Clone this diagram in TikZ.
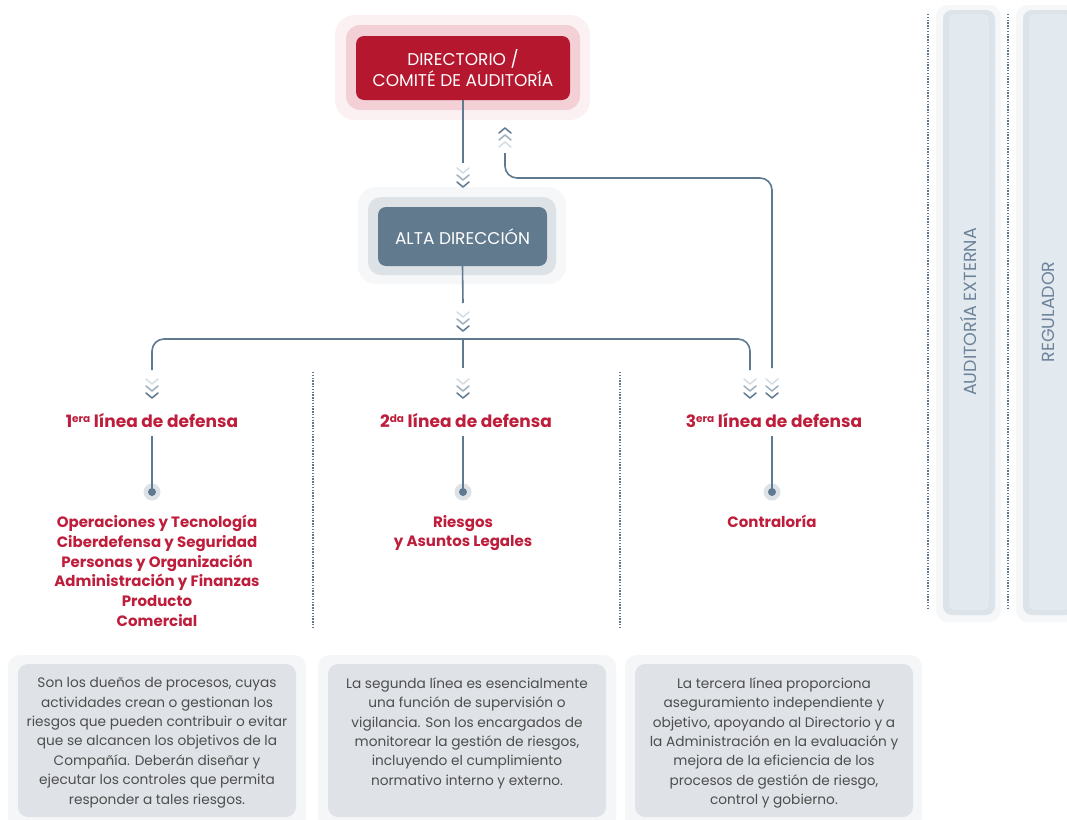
\documentclass[tikz,border=0pt]{standalone}
\usepackage{fontspec}
\setmainfont{Poppins}
\definecolor{redbox}{HTML}{B5172F}
\definecolor{pinkmid}{HTML}{F2D0D6}
\definecolor{pinkout}{HTML}{FBF0F2}
\definecolor{slate}{HTML}{627A8E}
\definecolor{graymid}{HTML}{DDE2E7}
\definecolor{grayout}{HTML}{F5F7F9}
\definecolor{linec}{HTML}{5F7A90}
\definecolor{chevmid}{HTML}{9FB0BF}
\definecolor{chevlight}{HTML}{D5DDE4}
\definecolor{txtred}{HTML}{BE1E3C}
\definecolor{boxtxt}{HTML}{4D4D4D}
\definecolor{boxfill}{HTML}{DFE3E7}
\definecolor{boxouter}{HTML}{F5F6F8}
\definecolor{panelin}{HTML}{DCE4EA}
\definecolor{panelmid}{HTML}{E2EAF0}
\definecolor{paneltxt}{HTML}{6E8399}
\newcommand{\ordsup}[1]{\raisebox{0.55ex}{\fontsize{10.5}{10.5}\selectfont #1}}
\tikzset{
  conn/.style={draw=linec, line width=1.6pt},
  chev/.style={line width=1.5pt, line cap=round, line join=round},
  mainbox/.style={rounded corners=8pt, minimum width=214pt, minimum height=64pt, align=center, text=white, font=\fontsize{17}{21}\selectfont},
  head/.style={text=txtred, font=\bfseries\fontsize{17}{20}\selectfont},
  items/.style={text=txtred, align=center, font=\bfseries\fontsize{15}{19.8}\selectfont, anchor=north},
  boxtext/.style={text=boxtxt, align=center, font=\fontsize{13.7}{19.4}\selectfont, anchor=north},
  sep/.style={draw=linec, line width=1.3pt, dash pattern=on 1.4pt off 1.4pt},
  halo/.style={circle, fill=graymid, minimum size=17pt, inner sep=0pt},
  dotc/.style={circle, fill=linec, minimum size=8pt, inner sep=0pt},
  paneltext/.style={rotate=90, text=paneltxt, font=\fontsize{17.5}{20}\selectfont}
}
% down chevrons: #1 x, #2 y of tip of the dark chevron
\newcommand{\chevsdown}[2]{%
  \draw[chev, chevlight] (#1-6,#2-19) -- (#1,#2-14) -- (#1+6,#2-19);
  \draw[chev, chevmid] (#1-6,#2-12) -- (#1,#2-7) -- (#1+6,#2-12);
  \draw[chev, linec] (#1-6,#2-5) -- (#1,#2) -- (#1+6,#2-5);}
% up chevrons: #1 x, #2 y of apex of the dark chevron
\newcommand{\chevsup}[2]{%
  \draw[chev, linec] (#1-6,#2+5) -- (#1,#2) -- (#1+6,#2+5);
  \draw[chev, chevmid] (#1-6,#2+12) -- (#1,#2+7) -- (#1+6,#2+12);
  \draw[chev, chevlight] (#1-6,#2+19) -- (#1,#2+14) -- (#1+6,#2+19);}
\begin{document}
\begin{tikzpicture}[x=1pt, y=-1pt]
\useasboundingbox[fill=white] (0,0) rectangle (1067,819);

% right panels
\fill[grayout, rounded corners=12pt] (936,5) rectangle (1001,622);
\fill[panelin, rounded corners=9pt] (943,10) rectangle (995,615);
\fill[panelmid, rounded corners=6pt] (949,14) rectangle (989,610);
\fill[grayout, rounded corners=12pt] (1016,5) rectangle (1080,622);
\fill[panelin, rounded corners=9pt] (1023,10) rectangle (1075,615);
\fill[panelmid, rounded corners=6pt] (1029,14) rectangle (1070,610);
\node[paneltext] (audext) at (968,312) {AUDITORÍA EXTERNA};
\node[paneltext] (reg) at (1048,312) {REGULADOR};
\draw[sep] (928,14) -- (928,610);
\draw[sep] (1008,14) -- (1008,610);

% Directorio
\fill[pinkout, rounded corners=20pt] (335,15) rectangle (590,120);
\fill[pinkmid, rounded corners=14pt] (346,25) rectangle (580,110);
\node[mainbox, fill=redbox] (dir) at (463,68) {DIRECTORIO /\\COMITÉ DE AUDITORÍA};

% Alta direccion
\fill[grayout, rounded corners=18pt] (358,187) rectangle (566,284);
\fill[graymid, rounded corners=13pt] (368,197) rectangle (556,275);
\node[mainbox, fill=slate, minimum width=169pt, minimum height=59pt] (alta) at (462.5,236.5) {ALTA DIRECCIÓN};

% connectors
\coordinate (a1) at (463,163);
\draw[conn] (dir.south) -- (a1);
\chevsdown{463}{187}

\coordinate (b0) at (463,303);
\draw[conn] (alta.south) -- (b0);
\chevsdown{463}{331}

\coordinate (bl) at (152,370);
\coordinate (bc) at (463,339);
\coordinate (br) at (750,370);
\draw[conn, rounded corners=12pt] (bl) |- (bc) -| (br);
\draw[conn] (bc) -- (463,368);
\chevsdown{152}{398}
\chevsdown{463}{398}
\chevsdown{750}{398}

\coordinate (r0) at (772,368);
\coordinate (r1) at (505,153);
\draw[conn, rounded corners=12pt] (r0) |- (640,178) -| (r1);
\chevsdown{772}{398}
\chevsup{505}{128}

% separators
\draw[sep] (313,372) -- (313,628);
\draw[sep] (620,372) -- (620,628);

% headers
\node[head] (h1) at (152,421) {1\ordsup{era} línea de defensa};
\node[head] (h2) at (466,421) {2\ordsup{da} línea de defensa};
\node[head] (h3) at (774,421) {3\ordsup{era} línea de defensa};

\foreach \n/\x in {1/152,2/463,3/772}{
  \node[halo] (g\n) at (\x,492) {};
  \draw[conn] (\x,436) -- (g\n.center);
  \node[dotc] (d\n) at (\x,492) {};
}

% items
\node[items] (i1) at (157,511.5) {Operaciones y Tecnología\\Ciberdefensa y Seguridad\\Personas y Organización\\Administración y Finanzas\\Producto\\Comercial};
\node[items] (i2) at (463,511.5) {Riesgos\\y Asuntos Legales};
\node[items] (i3) at (772,511.5) {Contraloría};

% bottom boxes
\fill[boxouter, rounded corners=12pt] (8,655) rectangle (306,830);
\fill[boxfill, rounded corners=10pt] (18,664) rectangle (296,817);
\fill[boxouter, rounded corners=12pt] (318,655) rectangle (616,830);
\fill[boxfill, rounded corners=10pt] (328,664) rectangle (606,817);
\fill[boxouter, rounded corners=12pt] (625,655) rectangle (922,830);
\fill[boxfill, rounded corners=10pt] (635,664) rectangle (913,817);

\node[boxtext] (t1) at (157,674) {Son los dueños de procesos, cuyas\\actividades crean o gestionan los\\riesgos que pueden contribuir o evitar\\que se alcancen los objetivos de la\\Compañía. Deberán diseñar y\\ejecutar los controles que permita\\responder a tales riesgos.};
\node[boxtext] (t2) at (467,674) {La segunda línea es esencialmente\\una función de supervisión o\\vigilancia. Son los encargados de\\monitorear la gestión de riesgos,\\incluyendo el cumplimiento\\normativo interno y externo.};
\node[boxtext] (t3) at (774,674) {La tercera línea proporciona\\aseguramiento independiente y\\objetivo, apoyando al Directorio y a\\la Administración en la evaluación y\\mejora de la eficiencia de los\\procesos de gestión de riesgo,\\control y gobierno.};
\end{tikzpicture}
\end{document}
